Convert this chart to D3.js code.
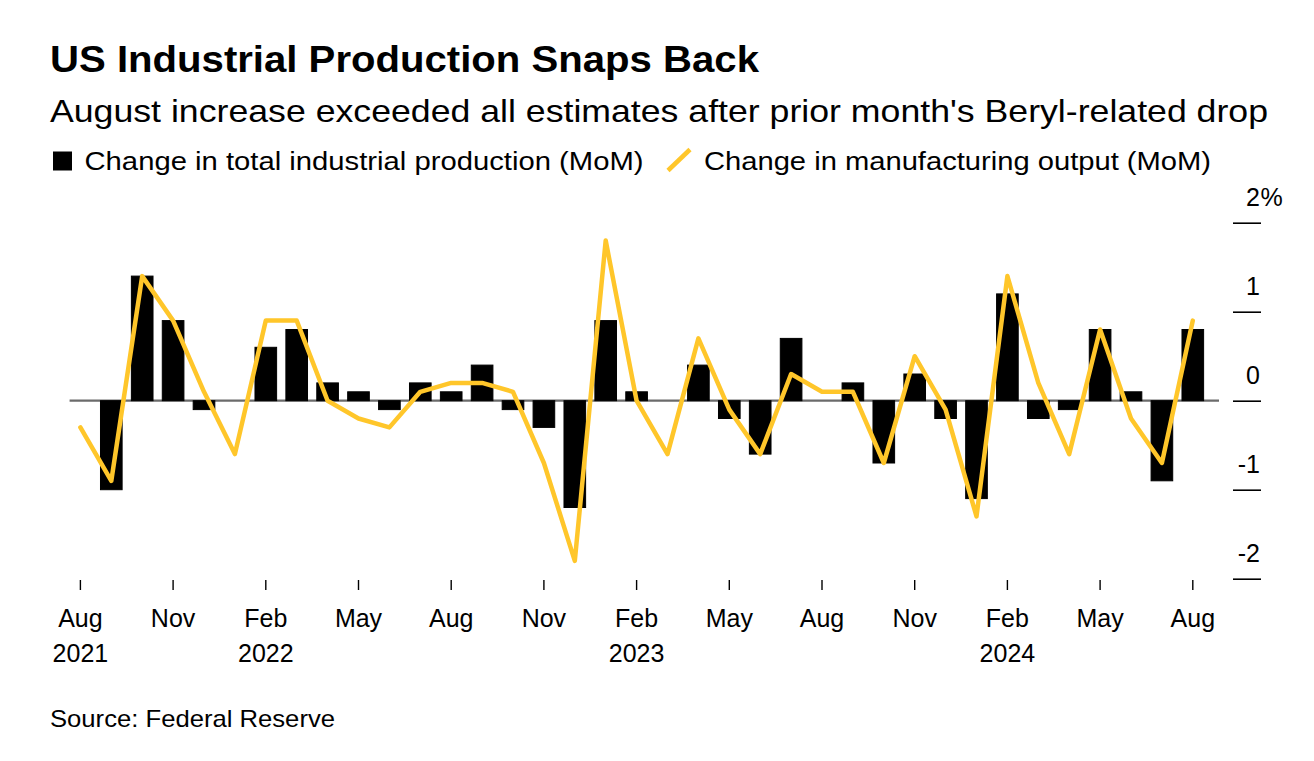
<!DOCTYPE html>
<html>
<head>
<meta charset="utf-8">
<script src="https://cdn.jsdelivr.net/npm/d3@7"></script>
<style>
  html, body { margin: 0; padding: 0; background: #ffffff; }
  svg { display: block; font-family: "Liberation Sans", Arial, Helvetica, sans-serif; }
</style>
</head>
<body>
<svg id="chart" width="1314" height="761"></svg>
<script>
// ---- Data ----
const months = ["Aug 2021","Sep 2021","Oct 2021","Nov 2021","Dec 2021",
  "Jan 2022","Feb 2022","Mar 2022","Apr 2022","May 2022","Jun 2022","Jul 2022","Aug 2022","Sep 2022","Oct 2022","Nov 2022","Dec 2022",
  "Jan 2023","Feb 2023","Mar 2023","Apr 2023","May 2023","Jun 2023","Jul 2023","Aug 2023","Sep 2023","Oct 2023","Nov 2023","Dec 2023",
  "Jan 2024","Feb 2024","Mar 2024","Apr 2024","May 2024","Jun 2024","Jul 2024","Aug 2024"];
const totalIP = [0, -1.0, 1.4, 0.9, -0.1,
  0, 0.6, 0.8, 0.2, 0.1, -0.1, 0.2, 0.1, 0.4, -0.1, -0.3, -1.2,
  0.9, 0.1, 0, 0.4, -0.2, -0.6, 0.7, 0, 0.2, -0.7, 0.3, -0.2,
  -1.1, 1.2, -0.2, -0.1, 0.8, 0.1, -0.9, 0.8];
const manufacturing = [-0.3, -0.9, 1.4, 0.9, 0.1,
  -0.6, 0.9, 0.9, 0.0, -0.2, -0.3, 0.1, 0.2, 0.2, 0.1, -0.7, -1.8,
  1.8, 0.0, -0.6, 0.7, -0.1, -0.6, 0.3, 0.1, 0.1, -0.7, 0.5, -0.1,
  -1.3, 1.4, 0.2, -0.6, 0.8, -0.2, -0.7, 0.9];
const xTickMonths = ["Aug 2021","Nov 2021","Feb 2022","May 2022","Aug 2022","Nov 2022","Feb 2023","May 2023","Aug 2023","Nov 2023","Feb 2024","May 2024","Aug 2024"];
const yTicks = [-2, -1, 0, 1, 2];

const title = "US Industrial Production Snaps Back";
const subtitle = "August increase exceeded all estimates after prior month's Beryl-related drop";
const legendBar = "Change in total industrial production (MoM)";
const legendLine = "Change in manufacturing output (MoM)";
const source = "Source: Federal Reserve";

// ---- Layout ----
const svg = d3.select("#chart");
const YELLOW = "#FFC62A";

const x = d3.scaleBand()
  .domain(months)
  .range([64.95, 1208.25])
  .paddingInner(0.3)
  .paddingOuter(0.15);
const y = d3.scaleLinear().domain([-2, 2]).range([578.7, 222.7]);
const cx = m => x(m) + x.bandwidth() / 2;

// Title, subtitle
svg.append("text").attr("x", 50).attr("y", 72)
  .attr("font-size", 36).attr("font-weight", 700).attr("fill", "#000")
  .attr("textLength", 709).attr("lengthAdjust", "spacingAndGlyphs")
  .text(title);
svg.append("text").attr("x", 50).attr("y", 122)
  .attr("font-size", 32).attr("fill", "#000")
  .attr("textLength", 1218).attr("lengthAdjust", "spacingAndGlyphs")
  .text(subtitle);

// Legend
svg.append("rect").attr("x", 53).attr("y", 151.5).attr("width", 19).attr("height", 19).attr("fill", "#000");
svg.append("text").attr("x", 84.5).attr("y", 170)
  .attr("font-size", 25).attr("fill", "#000")
  .attr("textLength", 559).attr("lengthAdjust", "spacingAndGlyphs")
  .text(legendBar);
svg.append("line").attr("x1", 668).attr("y1", 170.5).attr("x2", 690).attr("y2", 149.5)
  .attr("stroke", YELLOW).attr("stroke-width", 4.5);
svg.append("text").attr("x", 704).attr("y", 170)
  .attr("font-size", 25).attr("fill", "#000")
  .attr("textLength", 507).attr("lengthAdjust", "spacingAndGlyphs")
  .text(legendLine);

// Y axis (right side): short tick lines with labels above them
const yAxis = d3.axisRight(y).tickValues(yTicks).tickSize(0).tickFormat("");
const yg = svg.append("g").attr("transform", "translate(1233,0)").call(yAxis);
yg.select(".domain").remove();
yg.selectAll(".tick").append("line")
  .attr("x1", 0).attr("x2", 28).attr("stroke", "#000").attr("stroke-width", 1.6);
yg.selectAll(".tick").append("text")
  .attr("x", 27).attr("y", -17)
  .attr("text-anchor", "end").attr("font-size", 25).attr("fill", "#000")
  .text(d => d < 0 ? "-" + Math.abs(d) : String(d));
yg.selectAll(".tick").filter(d => d === 2).append("text")
  .attr("x", 27.5).attr("y", -17)
  .attr("font-size", 25).attr("fill", "#000")
  .text("%");

// Zero line
svg.append("line")
  .attr("x1", x(months[0])).attr("x2", 1219)
  .attr("y1", y(0)).attr("y2", y(0))
  .attr("stroke", "#6b6b6b").attr("stroke-width", 2.2);

// Bars
svg.append("g").selectAll("rect").data(months).join("rect")
  .attr("x", d => x(d))
  .attr("width", x.bandwidth())
  .attr("y", (d, i) => y(Math.max(0, totalIP[i])))
  .attr("height", (d, i) => Math.abs(y(totalIP[i]) - y(0)))
  .attr("fill", "#000")
  .attr("stroke", "#000").attr("stroke-width", 1);

// Line
const line = d3.line().x((d, i) => cx(months[i])).y(d => y(d));
svg.append("path").datum(manufacturing)
  .attr("d", line)
  .attr("fill", "none").attr("stroke", YELLOW)
  .attr("stroke-width", 4.5).attr("stroke-linejoin", "round").attr("stroke-linecap", "round");

// X axis (bottom): ticks every 3 months
const xAxis = d3.axisBottom(x).tickValues(xTickMonths).tickSize(0).tickFormat("");
const xg = svg.append("g").attr("transform", "translate(0,579)").call(xAxis);
xg.select(".domain").remove();
xg.selectAll(".tick").append("line")
  .attr("y1", 1).attr("y2", 11).attr("stroke", "#000").attr("stroke-width", 1.4);
xg.selectAll(".tick").append("text")
  .attr("y", 48).attr("text-anchor", "middle").attr("font-size", 25).attr("fill", "#000")
  .text(d => d.split(" ")[0]);
xg.selectAll(".tick").filter((d, i) => i === 0 || d.startsWith("Feb")).append("text")
  .attr("y", 83).attr("text-anchor", "middle").attr("font-size", 25).attr("fill", "#000")
  .text(d => d.split(" ")[1]);

// Source
svg.append("text").attr("x", 50).attr("y", 727)
  .attr("font-size", 24).attr("fill", "#000")
  .attr("textLength", 285).attr("lengthAdjust", "spacingAndGlyphs")
  .text(source);
</script>
</body>
</html>
